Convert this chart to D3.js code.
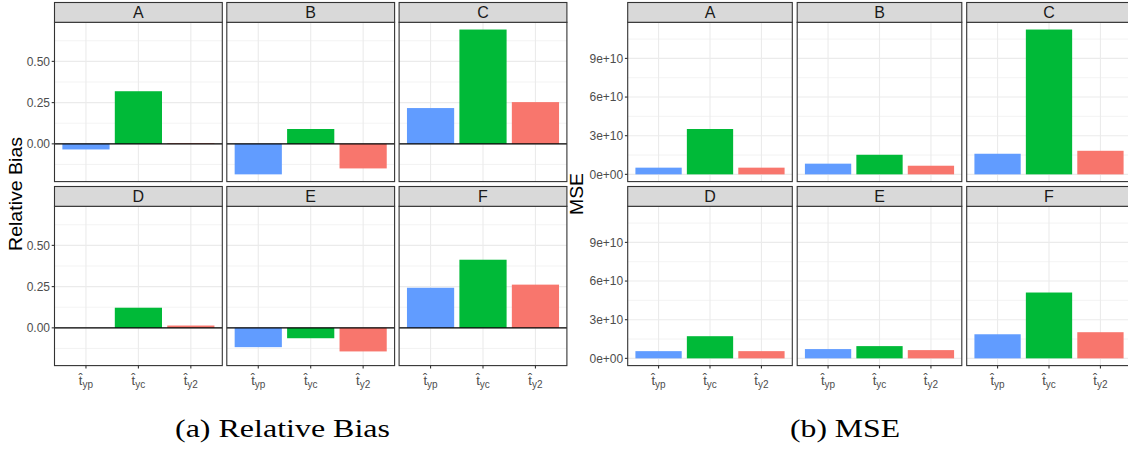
<!DOCTYPE html>
<html>
<head>
<meta charset="utf-8">
<script src="https://cdn.jsdelivr.net/npm/d3@7"></script>
<style>
  body { margin: 0; background: #fff; }
  text { font-family: "Liberation Sans", Arial, sans-serif; }
</style>
</head>
<body>
<svg id="chart" width="1128" height="449"></svg>
<script>
// facets and estimators
const scenarios = ["A", "B", "C", "D", "E", "F"];
const estimators = ["yp", "yc", "y2"];
const estimatorColors = ["#619CFF", "#00BA38", "#F8766D"];

// relative bias, one value per scenario
const biasYp = [-0.034, -0.185, 0.217, 0.000, -0.117, 0.243];
const biasYc = [0.319, 0.090, 0.693, 0.122, -0.063, 0.413];
const biasY2 = [0.004, -0.149, 0.253, 0.014, -0.143, 0.262];
const biasTicks = [0, 0.25, 0.5];

// MSE, one value per scenario
const mseYp = [0.52e10, 0.83e10, 1.60e10, 0.56e10, 0.72e10, 1.87e10];
const mseYc = [3.52e10, 1.52e10, 11.24e10, 1.72e10, 0.95e10, 5.11e10];
const mseY2 = [0.52e10, 0.67e10, 1.83e10, 0.56e10, 0.64e10, 2.03e10];
const mseTicks = [0, 3e10, 6e10, 9e10];

const figures = [
    {
        series: [biasYp, biasYc, biasY2],
        ticks: biasTicks,
        fmt: d3.format(".2f"),
        title: "Relative Bias",
        titleLen: 114,
        titleX: 22,
        caption: "(a) Relative Bias",
        captionX: 175, captionLen: 215,
        left: 54.5, step: 172.3, width: 167.8,
        zeroLine: true
    },
    {
        series: [mseYp, mseYc, mseY2],
        ticks: mseTicks,
        fmt: d => d === 0 ? "0e+00" : (d / 1e10) + "e+10",
        title: "MSE",
        titleLen: 42,
        titleX: 583,
        caption: "(b) MSE",
        captionX: 790, captionLen: 110,
        left: 627.7, step: 169.5, width: 164.6,
        zeroLine: false
    }
];

const rowTops = [2.5, 186.5];
const stripH = 19.8;
const bodyH = 159.3;
const frame = "#333333";
const grid = "#EBEBEB";

const svg = d3.select("#chart");

figures.forEach(fig => {
    let all = fig.series.flat().concat([0]);
    let [lo, hi] = d3.extent(all);
    let pad = (hi - lo) * 0.05;
    let domain = [lo - pad, hi + pad];

    let step = fig.ticks[1] - fig.ticks[0];
    let minor = d3.range(fig.ticks[0] - step / 2, domain[1], step).filter(v => v > domain[0]);

    scenarios.forEach((sc, i) => {
        let col = i % 3, row = Math.floor(i / 3);
        let x0 = fig.left + col * fig.step;
        let top = rowTops[row];
        let bodyTop = top + stripH;
        let bodyBot = bodyTop + bodyH;

        let x = d3.scaleBand()
            .domain(estimators)
            .range([x0, x0 + fig.width])
            .paddingInner(0.1)
            .paddingOuter(0.15);
        let y = d3.scaleLinear().domain(domain).range([bodyBot, bodyTop]);

        let g = svg.append("g");

        // grid
        g.selectAll(".minor").data(minor).enter().append("line")
            .attr("x1", x0).attr("x2", x0 + fig.width)
            .attr("y1", d => y(d)).attr("y2", d => y(d))
            .attr("stroke", grid).attr("stroke-width", 0.6);
        g.selectAll(".major").data(fig.ticks).enter().append("line")
            .attr("x1", x0).attr("x2", x0 + fig.width)
            .attr("y1", d => y(d)).attr("y2", d => y(d))
            .attr("stroke", grid).attr("stroke-width", 1.1);
        g.selectAll(".vgrid").data(estimators).enter().append("line")
            .attr("x1", d => x(d) + x.bandwidth() / 2).attr("x2", d => x(d) + x.bandwidth() / 2)
            .attr("y1", bodyTop).attr("y2", bodyBot)
            .attr("stroke", grid).attr("stroke-width", 1.1);

        // bars
        g.selectAll(".bar").data(estimators).enter().append("rect")
            .attr("x", d => x(d))
            .attr("width", x.bandwidth())
            .attr("y", (d, k) => y(Math.max(0, fig.series[k][i])))
            .attr("height", (d, k) => Math.abs(y(fig.series[k][i]) - y(0)))
            .attr("fill", (d, k) => estimatorColors[k]);

        if (fig.zeroLine) {
            g.append("line")
                .attr("x1", x0).attr("x2", x0 + fig.width)
                .attr("y1", y(0)).attr("y2", y(0))
                .attr("stroke", "#000").attr("stroke-width", 1.1);
        }

        // panel border
        g.append("rect")
            .attr("x", x0).attr("y", bodyTop)
            .attr("width", fig.width).attr("height", bodyH)
            .attr("fill", "none").attr("stroke", frame).attr("stroke-width", 1.1);

        // strip
        g.append("rect")
            .attr("x", x0).attr("y", top)
            .attr("width", fig.width).attr("height", stripH)
            .attr("fill", "#D9D9D9").attr("stroke", frame).attr("stroke-width", 1.1);
        g.append("text")
            .attr("x", x0 + fig.width / 2).attr("y", top + stripH / 2 + 5.8)
            .attr("text-anchor", "middle")
            .attr("font-size", 16).attr("fill", "#1A1A1A")
            .text(sc);

        // y axis on the first column
        if (col === 0) {
            g.selectAll(".ytick").data(fig.ticks).enter().append("line")
                .attr("x1", x0 - 2.8).attr("x2", x0)
                .attr("y1", d => y(d)).attr("y2", d => y(d))
                .attr("stroke", frame).attr("stroke-width", 1.1);
            g.selectAll(".ylab").data(fig.ticks).enter().append("text")
                .attr("x", x0 - 4.5).attr("y", d => y(d) + 4.2)
                .attr("text-anchor", "end")
                .attr("font-size", 12).attr("fill", "#4D4D4D")
                .text(fig.fmt);
        }

        // x axis on the bottom row: t-hat (combining circumflex) with subscript
        if (row === 1) {
            g.selectAll(".xtick").data(estimators).enter().append("line")
                .attr("x1", d => x(d) + x.bandwidth() / 2).attr("x2", d => x(d) + x.bandwidth() / 2)
                .attr("y1", bodyBot).attr("y2", bodyBot + 2.8)
                .attr("stroke", frame).attr("stroke-width", 1.1);
            g.selectAll(".xlab").data(estimators).enter().append("text")
                .attr("x", d => x(d) + x.bandwidth() / 2).attr("y", bodyBot + 19)
                .attr("text-anchor", "middle")
                .attr("fill", "#4D4D4D")
                .each(function(est) {
                    let t = d3.select(this);
                    t.append("tspan").attr("font-size", 13).text("t\u0302");
                    t.append("tspan").attr("font-size", 10).attr("dy", 3).text(est);
                });
        }
    });

    // axis title, centred on the panel bodies
    let midY = (rowTops[0] + stripH + rowTops[1] + stripH + bodyH) / 2;
    svg.append("text")
        .attr("transform", "translate(" + fig.titleX + "," + midY + ") rotate(-90)")
        .attr("text-anchor", "middle")
        .attr("font-size", 17.5).attr("fill", "#000")
        .attr("textLength", fig.titleLen).attr("lengthAdjust", "spacingAndGlyphs")
        .text(fig.title);

    // caption
    svg.append("text")
        .attr("x", fig.captionX).attr("y", 437)
        .style("font-family", "'Liberation Serif', 'DejaVu Serif', serif")
        .attr("font-size", 25).attr("fill", "#000")
        .attr("textLength", fig.captionLen).attr("lengthAdjust", "spacingAndGlyphs")
        .text(fig.caption);
});
</script>
</body>
</html>
